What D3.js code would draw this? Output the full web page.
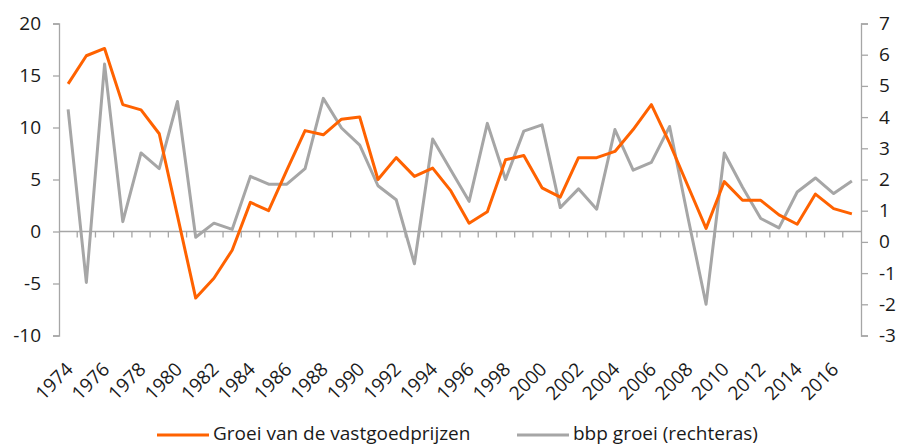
<!DOCTYPE html>
<html>
<head>
<meta charset="utf-8">
<script src="https://cdnjs.cloudflare.com/ajax/libs/d3/7.8.5/d3.min.js"></script>
<style>
  body { margin: 0; background: #ffffff; }
  text { font-family: "Open Sans", "Noto Sans", sans-serif; fill: #1a1a1a; }
</style>
</head>
<body>
<div id="chart"></div>
<script>
// years on the category axis
var YEARS = d3.range(1974, 2018);
// every other year gets a label
var YEAR_LABELS = YEARS.filter(function(d){ return d % 2 == 0 && d <= 2016; });

// house price growth (left axis, %)
var HOUSE = [14.2, 16.9, 17.6, 12.2, 11.7, 9.4, 1.5, -6.4, -4.5, -1.8,
  2.8, 2.0, 5.9, 9.7, 9.3, 10.8, 11.0, 5.0, 7.1, 5.3,
  6.1, 3.9, 0.8, 1.9, 6.9, 7.3, 4.2, 3.3, 7.1, 7.1,
  7.7, 9.8, 12.2, 8.5, 4.4, 0.3, 4.8, 3.0, 3.0, 1.6,
  0.7, 3.6, 2.2, 1.7];

// gdp growth (right axis, %)
var GDP = [4.25, -1.3, 5.7, 0.65, 2.85, 2.35, 4.5, 0.15, 0.6, 0.4,
  2.1, 1.85, 1.85, 2.35, 4.6, 3.65, 3.1, 1.8, 1.35, -0.7,
  3.3, 2.3, 1.3, 3.8, 2.0, 3.55, 3.75, 1.1, 1.7, 1.05,
  3.6, 2.3, 2.55, 3.7, 0.8, -2.0, 2.85, 1.75, 0.75, 0.45,
  1.6, 2.05, 1.55, 1.95];

var LEFT_TICKS = [-10, -5, 0, 5, 10, 15, 20];
var RIGHT_TICKS = [-3, -2, -1, 0, 1, 2, 3, 4, 5, 6, 7];
var SERIES_NAMES = ["Groei van de vastgoedprijzen", "bbp groei (rechteras)"];

var ORANGE = "#ff6200";
var GREY = "#a6a6a6";
var AXIS = "#a6a6a6";
var FONT = 19;

var width = 902, height = 446;
// plot box (don't call these top/left, window.top is read only)
var plotL = 59, plotR = 861, plotT = 23.5, plotB = 335.5;

var svg = d3.select("#chart").append("svg")
  .attr("width", width)
  .attr("height", height);

var x = d3.scaleBand()
  .domain(YEARS)
  .range([plotL, plotR])
  .padding(0);

var yL = d3.scaleLinear().domain([-10, 20]).range([plotB, plotT]);
var yR = d3.scaleLinear().domain([-3, 7]).range([plotB, plotT]);

function cx(d){ return x(d) + x.bandwidth() / 2; }
// plain hyphen for negatives, like the original
function plain(d){ return String(d); }

// left axis
var leftAxis = svg.append("g")
  .attr("transform", "translate(" + plotL + ",0)")
  .call(d3.axisLeft(yL).tickValues(LEFT_TICKS).tickFormat(plain).tickSize(6).tickPadding(12));

// right axis
var rightAxis = svg.append("g")
  .attr("transform", "translate(" + plotR + ",0)")
  .call(d3.axisRight(yR).tickValues(RIGHT_TICKS).tickFormat(plain).tickSize(7).tickPadding(11));

[leftAxis, rightAxis].forEach(function(g){
  g.select(".domain").attr("stroke", AXIS).attr("stroke-width", 1.3);
  g.selectAll(".tick line").attr("stroke", AXIS).attr("stroke-width", 1.3);
  g.selectAll(".tick text")
    .attr("font-size", FONT)
    .style("font-family", "'Open Sans', 'Noto Sans', sans-serif")
    .attr("fill", "#1a1a1a");
});

// category axis crosses at 0 of the left axis
var zeroY = yL(0);
svg.append("line")
  .attr("x1", plotL).attr("x2", plotR)
  .attr("y1", zeroY).attr("y2", zeroY)
  .attr("stroke", AXIS)
  .attr("stroke-width", 1.3);

svg.selectAll(".xtick")
  .data(YEARS.slice(1))
  .enter().append("line")
  .attr("class", "xtick")
  .attr("x1", function(d){ return x(d); })
  .attr("x2", function(d){ return x(d); })
  .attr("y1", zeroY)
  .attr("y2", zeroY + 6)
  .attr("stroke", AXIS)
  .attr("stroke-width", 1.3);

// year labels sit below the plot area, rotated
svg.selectAll(".xlabel")
  .data(YEAR_LABELS)
  .enter().append("text")
  .attr("class", "xlabel")
  .attr("font-size", FONT)
  .attr("text-anchor", "end")
  .attr("transform", function(d){
    return "translate(" + (cx(d) + 6) + "," + (plotB + 35) + ") rotate(-45)";
  })
  .text(function(d){ return d; });

// lines
var lineL = d3.line()
  .x(function(d, i){ return cx(YEARS[i]); })
  .y(function(d){ return yL(d); });

var lineR = d3.line()
  .x(function(d, i){ return cx(YEARS[i]); })
  .y(function(d){ return yR(d); });

svg.append("path")
  .datum(GDP)
  .attr("d", lineR)
  .attr("fill", "none")
  .attr("stroke", GREY)
  .attr("stroke-width", 3)
  .attr("stroke-linejoin", "round");

svg.append("path")
  .datum(HOUSE)
  .attr("d", lineL)
  .attr("fill", "none")
  .attr("stroke", ORANGE)
  .attr("stroke-width", 3)
  .attr("stroke-linejoin", "round");

// legend
var legend = [
  { name: SERIES_NAMES[0], color: ORANGE, x: 157 },
  { name: SERIES_NAMES[1], color: GREY, x: 517 }
];

var lg = svg.selectAll(".legend")
  .data(legend)
  .enter().append("g")
  .attr("class", "legend")
  .attr("transform", function(d){ return "translate(" + d.x + ",435)"; });

lg.append("line")
  .attr("x1", 0).attr("x2", 52)
  .attr("y1", 0).attr("y2", 0)
  .attr("stroke", function(d){ return d.color; })
  .attr("stroke-width", 3);

lg.append("text")
  .attr("x", 56)
  .attr("y", 5)
  .attr("font-size", FONT)
  .text(function(d){ return d.name; });
</script>
</body>
</html>
